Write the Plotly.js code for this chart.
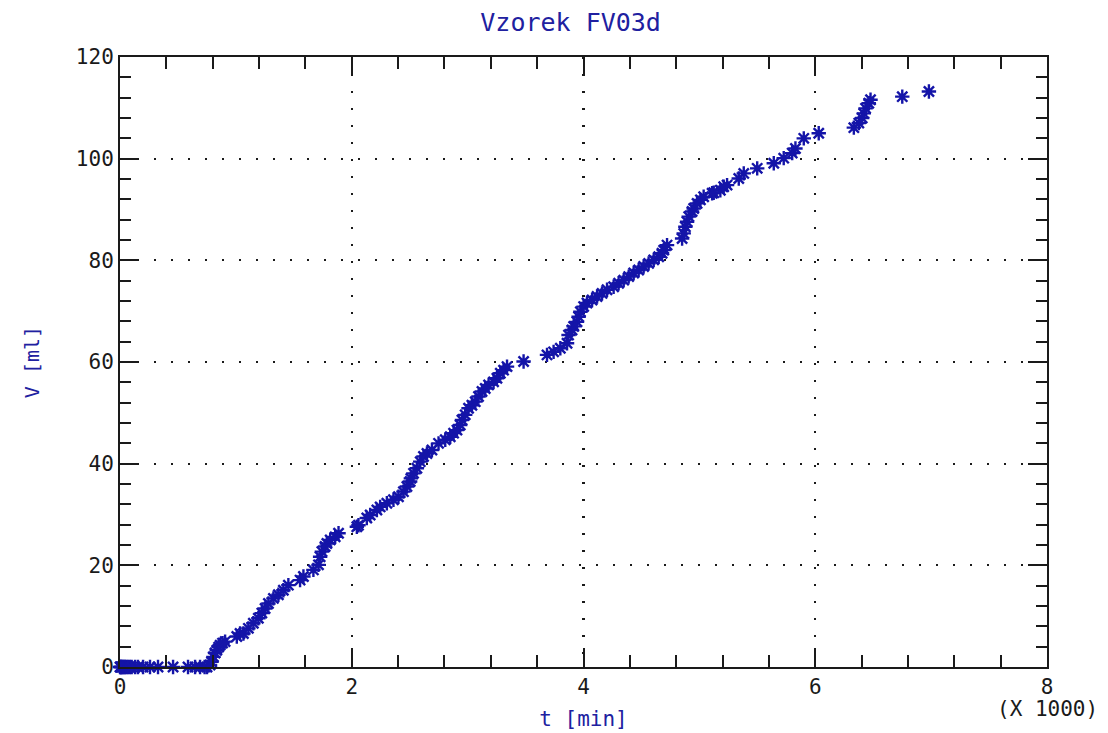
<!DOCTYPE html>
<html>
<head>
<meta charset="utf-8">
<script src="https://cdn.plot.ly/plotly-3.0.1.min.js"></script>
<style>
  html, body { margin: 0; padding: 0; background: #fff; }
  #chart { width: 1108px; height: 733px; }
</style>
</head>
<body>
<div id="chart"></div>
<script>
// Filtration run: cumulative filtrate volume V [ml] against time t [min]
const chartTitle = 'Vzorek FV03d';
const xLabel = 't [min]';
const yLabel = 'V [ml]';
const xScaleNote = '(X 1000)';

// time of each reading, minutes
const tMin = [
  0, 5, 10, 15, 25, 35, 43, 55, 69, 85, 101, 130, 155, 199, 259, 328, 458, 587, 648, 691, 730, 751, 777,
  790, 806, 820, 835, 851, 864, 885, 907,
  1008, 1036, 1065, 1108, 1151, 1194, 1224, 1252, 1281, 1324, 1367, 1410, 1453, 1554, 1583, 1669, 1713,
  1727, 1742, 1770, 1785, 1814, 1857, 1886,
  2044, 2058, 2130, 2159, 2217, 2245, 2303, 2360, 2403, 2446, 2476, 2504,
  2510, 2533, 2562, 2591, 2619, 2649, 2692, 2749, 2807, 2850, 2879, 2908, 2936, 2951, 2979, 3008, 3037,
  3066, 3094, 3124, 3152, 3181, 3224, 3253, 3282, 3310, 3340,
  3483,
  3685, 3742, 3800, 3858, 3871, 3901, 3915, 3944, 3958, 3973, 4001, 4030, 4074, 4117, 4160, 4203, 4260,
  4303, 4347, 4390, 4433, 4476, 4519, 4562, 4606, 4649, 4678, 4692, 4721,
  4851, 4865, 4879, 4894, 4908, 4937, 4951, 4980, 5009, 5037, 5110, 5124, 5181, 5210, 5239, 5340, 5383,
  5499, 5642, 5728, 5801, 5829, 5901, 6030,
  6333, 6376, 6405, 6419, 6434, 6462, 6477,
  6751, 6981
];

// filtrate volume at each reading, ml
const vMl = [
  0, 0, 0, 0, 0, 0, 0, 0, 0, 0, 0, 0, 0, 0, 0, 0, 0, 0, 0, 0, 0, 0, 0.4,
  1.0, 2.0, 2.75, 3.3, 3.9, 4.3, 4.7, 5.0,
  6.0, 6.6, 6.6, 7.6, 8.6, 9.6, 10.6, 11.5, 12.5, 13.5, 14.2, 15.1, 16.1, 17.1, 17.8, 19.1, 20.1,
  21.7, 22.7, 23.7, 24.3, 25.0, 25.6, 26.3,
  27.6, 27.9, 29.3, 29.9, 30.9, 31.5, 32.2, 32.9, 33.5, 34.5, 35.5, 36.5,
  37.1, 38.1, 39.1, 40.4, 41.4, 42.0, 42.7, 44.0, 44.7, 45.3, 46.0, 46.6, 47.6, 48.6, 49.6, 50.9, 51.5,
  52.2, 53.2, 54.2, 54.8, 55.5, 56.1, 56.8, 57.8, 58.4, 59.1,
  60.1,
  61.4, 62.0, 62.7, 63.7, 65.3, 66.3, 67.0, 67.9, 68.9, 69.9, 70.9, 71.6, 72.2, 72.9, 73.5, 74.2, 74.8,
  75.5, 76.1, 76.8, 77.5, 78.1, 78.8, 79.4, 80.1, 80.7, 81.4, 82.0, 83.0,
  84.3, 85.3, 86.6, 87.6, 88.6, 89.6, 90.2, 91.2, 91.9, 92.5, 93.2, 93.3, 93.8, 94.5, 94.8, 96.1, 97.1,
  98.1, 99.1, 100.1, 101.1, 102.0, 104.0, 105.0,
  106.1, 107.0, 108.0, 108.9, 109.9, 110.9, 111.6,
  112.2, 113.2
];

// axis ticks: x in minutes, labelled in thousands
const xTickVals = [0, 2000, 4000, 6000, 8000];
const xTickText = ['0', '2', '4', '6', '8'];
const yTickVals = [0, 20, 40, 60, 80, 100, 120];

const ink = '#1a1a1a';
const blue = '#2020a0';
const markBlue = '#1414a8';
const mono = '"DejaVu Sans Mono", "Liberation Mono", monospace';

const readings = {
  type: 'scatter',
  mode: 'markers',
  x: tMin,
  y: vMl,
  cliponaxis: false,
  marker: {
    symbol: 'asterisk-open',
    size: 12,
    color: markBlue,
    line: { color: markBlue, width: 2.4 }
  },
  hoverinfo: 'x+y'
};

// empty trace that anchors the top/right frame axes
const frame = { type: 'scatter', mode: 'markers', x: [], y: [], xaxis: 'x2', yaxis: 'y2', hoverinfo: 'skip' };

const tickStyle = {
  showline: true,
  linecolor: ink,
  linewidth: 2,
  ticks: 'inside',
  tickcolor: ink,
  tickwidth: 2,
  ticklen: 19,
  zeroline: false
};

const xMinor = { ticks: 'inside', tickmode: 'linear', tick0: 0, dtick: 400, ticklen: 12, tickwidth: 2, tickcolor: ink, showgrid: false };
const yMinor = { ticks: 'inside', tickmode: 'linear', tick0: 0, dtick: 4, ticklen: 11, tickwidth: 2, tickcolor: ink, showgrid: false };

const layout = {
  width: 1108,
  height: 733,
  paper_bgcolor: '#ffffff',
  plot_bgcolor: '#ffffff',
  margin: { l: 120, r: 61, t: 57, b: 66 },
  showlegend: false,
  title: {
    text: chartTitle,
    font: { family: mono, size: 25, color: blue },
    xref: 'container',
    x: 0.515,
    xanchor: 'center',
    yref: 'container',
    y: 0.970,
    yanchor: 'middle'
  },
  xaxis: Object.assign({}, tickStyle, {
    range: [0, 8000],
    tickmode: 'array',
    tickvals: xTickVals,
    ticktext: xTickText,
    minor: xMinor,
    showgrid: true,
    gridcolor: ink,
    gridwidth: 2.2,
    griddash: '2px,15px',
    tickfont: { family: mono, size: 21, color: ink },
    title: { text: xLabel, font: { family: mono, size: 21, color: blue }, standoff: 13 }
  }),
  yaxis: Object.assign({}, tickStyle, {
    range: [0, 120],
    tickmode: 'array',
    tickvals: yTickVals,
    minor: yMinor,
    showgrid: true,
    gridcolor: ink,
    gridwidth: 2.2,
    griddash: '2px,15px',
    tickfont: { family: mono, size: 21, color: ink },
    title: { text: yLabel, font: { family: mono, size: 20, color: blue }, standoff: 31 }
  }),
  xaxis2: Object.assign({}, tickStyle, {
    overlaying: 'x',
    anchor: 'y',
    side: 'top',
    matches: 'x',
    range: [0, 8000],
    tickmode: 'array',
    tickvals: xTickVals,
    minor: xMinor,
    showticklabels: false,
    showgrid: false
  }),
  yaxis2: Object.assign({}, tickStyle, {
    overlaying: 'y',
    anchor: 'x',
    side: 'right',
    matches: 'y',
    range: [0, 120],
    tickmode: 'array',
    tickvals: yTickVals,
    minor: yMinor,
    showticklabels: false,
    showgrid: false
  }),
  annotations: [{
    text: xScaleNote,
    xref: 'paper', yref: 'paper',
    x: 1.0, y: -0.069,
    xanchor: 'center', yanchor: 'middle',
    showarrow: false,
    font: { family: mono, size: 21, color: ink }
  }]
};

Plotly.newPlot('chart', [readings, frame], layout, { displayModeBar: false, staticPlot: true });
</script>
</body>
</html>
